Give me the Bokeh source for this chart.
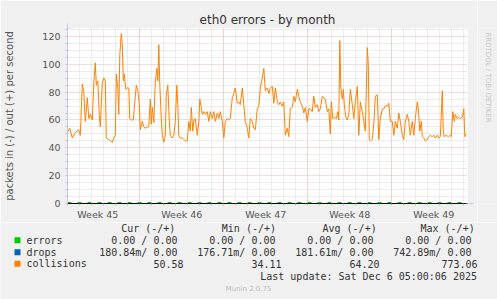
import math
from bokeh.plotting import figure
from bokeh.layouts import column, row
from bokeh.models import (Range1d, FixedTicker, Grid, Label, BoxAnnotation,
                          Arrow, NormalHead)
from bokeh.embed import file_html
from bokeh.resources import INLINE

# ---- data: hours since Mon 3 Nov 2025 00:00 -------------------------------
coll_t = [23, 28, 33, 39, 46, 49, 53, 56, 59, 63, 66, 69, 73, 76, 79, 81, 84, 87,
          89, 93, 96, 99, 101, 106, 109, 113, 116, 119, 121, 124, 126, 128, 131,
          133, 135, 137, 140, 143, 146, 148, 151, 155, 157, 161, 164, 167, 169,
          173, 176, 179, 183, 186, 189, 191, 193, 196, 199, 202, 204, 206, 208,
          211, 213, 216, 219, 221, 224, 227, 229, 233, 236, 239, 242, 244, 246,
          249, 253, 256, 259, 263, 266, 269, 271, 274, 276, 279, 283, 286, 288,
          291, 293, 296, 299, 303, 306, 309, 313, 316, 319, 323, 326, 329, 333,
          336, 339, 343, 346, 349, 353, 356, 359, 363, 366, 369, 373, 376, 379,
          383, 386, 389, 393, 396, 399, 403, 406, 409, 413, 416, 419, 423, 426,
          429, 433, 436, 439, 443, 446, 449, 453, 456, 459, 463, 466, 469, 473,
          476, 479, 483, 486, 489, 493, 496, 499, 503, 506, 509, 513, 516, 519,
          523, 526, 529, 533, 536, 539, 543, 546, 549, 551, 554, 557, 561, 564,
          566, 568, 570, 573, 575, 577, 580, 583, 586, 589, 593, 596, 599, 603,
          606, 609, 613, 616, 619, 623, 625, 627, 629, 633, 636, 639, 643, 646,
          649, 653, 656, 659, 663, 666, 669, 673, 676, 679, 683, 686, 689, 693,
          696, 699, 703, 706, 709, 713, 716, 719, 723, 725, 728, 731, 733, 736,
          739, 743, 746, 749, 753, 756, 759, 763, 766, 769, 773, 775, 777, 781,
          785, 788, 791, 794, 797, 799, 803, 806, 809, 813, 816, 818, 821]
coll_v = [51, 54, 47, 51, 53, 49, 86, 80, 59, 76, 61, 64, 60, 87, 101, 85, 88, 64,
          55, 87, 90, 88, 47, 46, 45, 44, 47, 49, 93, 83, 64, 107, 122,
          114, 88, 93, 82, 83, 83, 61, 60, 60, 69, 85, 81, 71, 53,
          59, 55, 54, 55, 55, 75, 57, 69, 58, 87, 97, 88, 114, 85,
          61, 49, 44, 49, 78, 85, 59, 49, 47, 49, 59, 85, 71, 49,
          47, 47, 46, 45, 45, 59, 52, 69, 52, 59, 61, 49, 59, 75,
          69, 64, 66, 64, 66, 59, 66, 61, 66, 59, 65, 61, 66, 59,
          47, 59, 61, 60, 61, 76, 79, 83, 72, 73, 71, 83, 71, 59,
          54, 47, 61, 59, 54, 53, 68, 70, 83, 90, 97, 81, 83, 79,
          83, 84, 72, 83, 73, 71, 73, 70, 73, 49, 54, 48, 68, 69,
          77, 73, 82, 77, 73, 70, 65, 69, 59, 68, 68, 66, 77, 69,
          71, 66, 68, 77, 76, 75, 66, 68, 50, 73, 61, 62, 61, 66,
          60, 117, 83, 75, 82, 71, 62, 60, 64, 82, 71, 61, 73, 84,
          49, 73, 66, 59, 52, 112, 100, 46, 45, 46, 57, 77, 78, 46,
          61, 68, 68, 70, 70, 72, 59, 59, 49, 59, 54, 65, 59, 49,
          46, 59, 64, 59, 49, 59, 49, 61, 73, 68, 52, 59, 48, 47,
          45, 46, 48, 49, 48, 49, 47, 49, 47, 48, 81, 52, 48, 49,
          48, 49, 48, 66, 59, 64, 61, 62, 61, 62, 68, 48, 50]
err_t = [23.4, 823.4]
err_v = [0.0, 0.0]
drop_t = [23.4, 823.4]
drop_v = [-0.18, -0.18]

week_pos = [84, 252, 420, 588, 756]
week_labels = ["Week 45", "Week 46", "Week 47", "Week 48", "Week 49"]
day_lines = [24 * k for k in range(1, 35)]
week_lines = [168, 336, 504, 672]
y_major = [0, 20, 40, 60, 80, 100, 120]
y_minor = [v for v in range(5, 126, 5) if v % 20 != 0]

series_names = ["errors", "drops", "collisions"]
series_colors = ["#00CC00", "#0066B3", "#FF8000"]
col_heads = ["Cur (-/+)", "Min (-/+)", "Avg (-/+)", "Max (-/+)"]
table = [["0.00 /  0.00", "0.00 /  0.00", "0.00 /  0.00", "0.00 /  0.00"],
         ["180.84m/  0.00", "176.71m/  0.00", "181.61m/  0.00", "742.89m/  0.00"],
         ["50.58", "34.11", "64.20", "773.06"]]
last_update = "Last update: Sat Dec  6 05:00:06 2025"

# ---- layout constants -----------------------------------------------------
W, H = 497, 299
FL, FR, FT, FBOT = 67, 10, 28, 19      # borders of the main chart
FW, FH = 400, 175                      # plot frame size
MAIN_W, MAIN_H = FL + FW + FR, FT + FH + FBOT
BG = "#F0F0F0"
TXT = "#555555"
LAV = "#C4C8EE"
MINOR = "#DADADA"
MAJOR = "#EDB8B8"
MONO = "DejaVu Sans Mono"

# ---- main chart -----------------------------------------------------------
p = figure(frame_width=FW, frame_height=FH, output_backend="svg",
           toolbar_location=None,
           x_range=Range1d(23.4, 823.4), y_range=Range1d(0, 125.7),
           min_border_left=FL, min_border_right=FR, min_border_top=FT,
           min_border_bottom=FBOT)
p.background_fill_color = "white"
p.border_fill_color = BG
p.outline_line_color = None
p.grid.visible = False

p.title.text = "eth0 errors - by month"
p.title.align = "center"
p.title.offset = -19
p.title.standoff = 4
p.title.text_font = "DejaVu Sans"
p.title.text_font_size = "12px"
p.title.text_font_style = "normal"
p.title.text_color = "#333333"

for dim, ticks, col in [(0, day_lines, MINOR), (1, y_minor, MINOR),
                        (0, week_lines, MAJOR), (1, y_major[1:], MAJOR)]:
    p.add_layout(Grid(dimension=dim, ticker=FixedTicker(ticks=ticks),
                      grid_line_color=col, grid_line_dash="1 1", grid_line_width=1))

xa = p.xaxis[0]
xa.ticker = FixedTicker(ticks=week_pos, minor_ticks=day_lines)
xa.major_label_overrides = {t: l for t, l in zip(week_pos, week_labels)}
xa.major_tick_line_color = None
xa.major_tick_in = 0
xa.major_tick_out = 0
xa.minor_tick_in = 0
xa.minor_tick_out = 2
xa.minor_tick_line_color = "#BBBBBB"
xa.axis_line_color = "black"
xa.major_label_standoff = 3
xa.major_label_text_font = "DejaVu Sans"
xa.major_label_text_font_size = "9.5px"
xa.major_label_text_color = TXT

ya = p.yaxis[0]
ya.ticker = FixedTicker(ticks=y_major, minor_ticks=y_minor)
ya.major_tick_in = 0
ya.major_tick_out = 2
ya.major_tick_line_color = MAJOR
ya.minor_tick_in = 0
ya.minor_tick_out = 2
ya.minor_tick_line_color = "#BBBBBB"
ya.axis_line_color = LAV
ya.major_label_standoff = 5
ya.major_label_text_font = "DejaVu Sans"
ya.major_label_text_font_size = "9.5px"
ya.major_label_text_color = TXT
ya.axis_label = "packets in (-) / out (+) per second"
ya.axis_label_text_font = "DejaVu Sans"
ya.axis_label_text_font_size = "10px"
ya.axis_label_text_font_style = "normal"
ya.axis_label_text_color = TXT
ya.axis_label_standoff = 24

p.line(coll_t, coll_v, line_color=series_colors[2], line_width=1)
p.line(drop_t, drop_v, line_color=series_colors[1], line_width=1)
p.line(err_t, err_v, line_color=series_colors[0], line_width=3, line_dash="4 6")

# axis arrows (screen units: relative to the frame's bottom-left corner)
p.add_layout(Arrow(end=NormalHead(size=5, fill_color=LAV, line_color=LAV),
                   x_start=0, y_start=FH - 3, x_end=0, y_end=FH + 5,
                   start_units="screen", end_units="screen", line_color=LAV))
p.add_layout(Arrow(end=NormalHead(size=5, fill_color=LAV, line_color=LAV),
                   x_start=FW - 2, y_start=0, x_end=FW + 6, y_end=0,
                   start_units="screen", end_units="screen", line_color=LAV))

# ---- right strip with the rrdtool credit ----------------------------------
side = figure(width=W - MAIN_W, height=MAIN_H, output_backend="svg",
              toolbar_location=None, x_range=Range1d(MAIN_W, W),
              y_range=Range1d(MAIN_H, 0), min_border=0,
              x_axis_location=None, y_axis_location=None)
side.background_fill_color = BG
side.border_fill_color = BG
side.outline_line_color = None
side.grid.visible = False
side.add_layout(Label(text="RRDTOOL / TOBI OETIKER", x=487, y=5, text_align="left",
                      text_baseline="middle", text_font="DejaVu Sans",
                      text_font_size="7px", text_color="#C8C8C8",
                      angle=-math.pi / 2))

# ---- legend / statistics strip --------------------------------------------
leg = figure(width=W, height=H - MAIN_H, output_backend="svg", toolbar_location=None,
             x_range=Range1d(0, W), y_range=Range1d(H, MAIN_H), min_border=0,
             x_axis_location=None, y_axis_location=None)
leg.background_fill_color = BG
leg.border_fill_color = BG
leg.outline_line_color = None
leg.grid.visible = False


def lab(text, x, y, align="left", font=MONO, size="10px", color="#333333"):
    leg.add_layout(Label(text=text, x=x, y=y, text_align=align,
                         text_baseline="middle", text_font=font,
                         text_font_size=size, text_color=color))


row_y = [239.7, 251.7, 263.3]
head_x = [120.7, 221.3, 322, 420]
val_x = [183, 281, 379, 477]
for hx, h in zip(head_x, col_heads):
    lab(h, hx, 227.7)
for i, (name, col) in enumerate(zip(series_names, series_colors)):
    yy = row_y[i]
    leg.add_layout(BoxAnnotation(left=14, right=20, bottom=yy + 3, top=yy - 3,
                                 fill_color=col, fill_alpha=1.0, line_color=None))
    lab(name, 26, yy)
    for j, vx in enumerate(val_x):
        lab(table[i][j], vx, yy, align="right")
lab(last_update, 482.5, 275.7, align="right")
lab("Munin 2.0.75", 248, 288, align="center", font="DejaVu Sans", size="7px",
    color="#BDBDBD")

layout = column(row(p, side, spacing=0), leg, spacing=0)
open("out.html", "w").write(file_html(layout, INLINE))
